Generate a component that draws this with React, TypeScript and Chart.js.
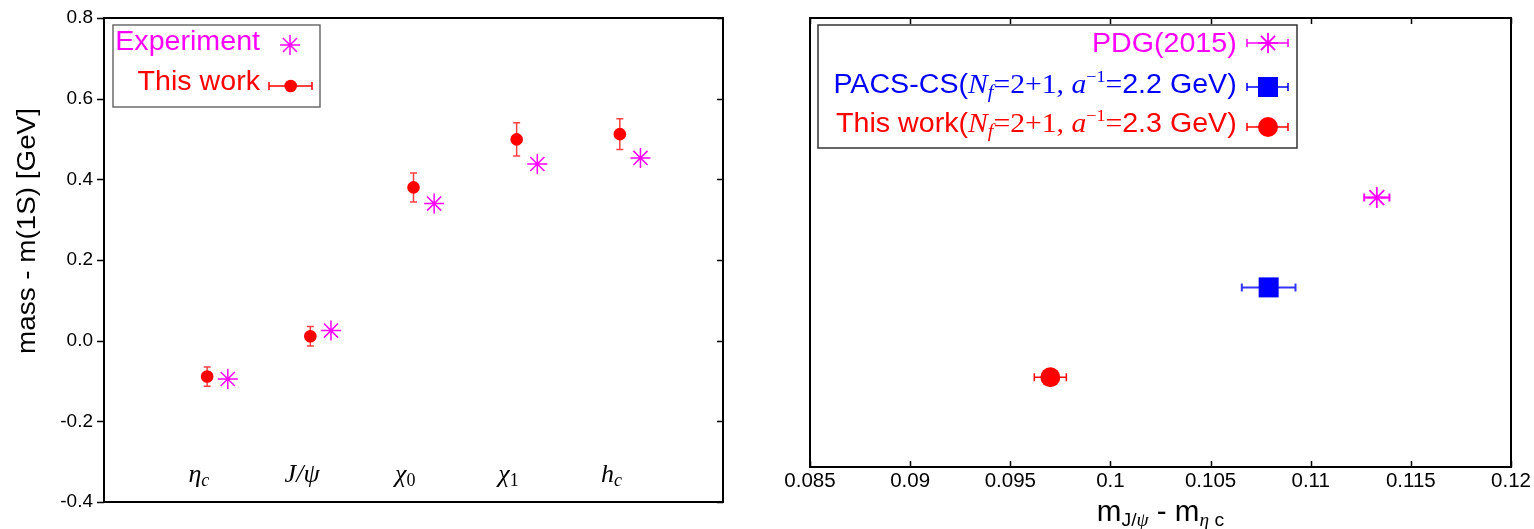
import React, { useEffect, useRef } from 'react';
import { Chart, registerables } from 'chart.js';

Chart.register(...registerables);

const MAGENTA = '#ff00ff';
const RED = '#ff0000';
const BLUE = '#0000ff';
const SANS = '"Liberation Sans", Arial, sans-serif';
const SERIF = '"Liberation Serif", "Times New Roman", serif';

// ---- Left panel data ----
const categoryMain = ['η', 'J/ψ', 'χ', 'χ', 'h'];
const categorySub = ['c', '', '0', '1', 'c'];
const categoryPos = [1, 2, 3, 4, 5];
const experimentValues = [-0.095, 0.025, 0.34, 0.438, 0.453];
const thisWorkValues = [-0.089, 0.011, 0.38, 0.499, 0.512];
const thisWorkErrors = [0.024, 0.024, 0.036, 0.041, 0.038];
const leftYMin = -0.4;
const leftYMax = 0.8;
const leftYStep = 0.2;

// ---- Right panel data ----
const rightXMin = 0.085;
const rightXMax = 0.12;
const rightXStep = 0.005;
const pdgX = [0.1133];
const pdgXErr = [0.00063];
const pacsX = [0.1079];
const pacsXErr = [0.00134];
const workX = [0.097];
const workXErr = [0.0008];
const rowY = [3, 2, 1]; // PDG, PACS-CS, This work

type Seg = { t: string; font: string; dy?: number };

function drawRich(ctx: CanvasRenderingContext2D, segs: Seg[], x: number, y: number, align: 'left' | 'right' | 'center', color: string, sx = 1) {
  ctx.save();
  ctx.fillStyle = color;
  ctx.textBaseline = 'alphabetic';
  ctx.textAlign = 'left';
  const widths = segs.map((s) => {
    ctx.font = s.font;
    return ctx.measureText(s.t).width;
  });
  const total = widths.reduce((a, b) => a + b, 0);
  ctx.translate(x, y);
  ctx.scale(sx, 1);
  let cx = align === 'right' ? -total : align === 'center' ? -total / 2 : 0;
  segs.forEach((s, i) => {
    ctx.font = s.font;
    ctx.fillText(s.t, cx, s.dy || 0);
    cx += widths[i];
  });
  ctx.restore();
}

function drawStar(ctx: CanvasRenderingContext2D, x: number, y: number, r: number, color: string, lw: number) {
  ctx.save();
  ctx.strokeStyle = color;
  ctx.lineWidth = lw;
  ctx.beginPath();
  for (let k = 0; k < 4; k++) {
    const a = (k * Math.PI) / 4;
    ctx.moveTo(x - Math.cos(a) * r, y - Math.sin(a) * r);
    ctx.lineTo(x + Math.cos(a) * r, y + Math.sin(a) * r);
  }
  ctx.stroke();
  ctx.restore();
}

function hErrBar(ctx: CanvasRenderingContext2D, x1: number, x2: number, y: number, cap: number, color: string, lw: number) {
  ctx.save();
  ctx.strokeStyle = color;
  ctx.lineWidth = lw;
  ctx.beginPath();
  ctx.moveTo(x1, y);
  ctx.lineTo(x2, y);
  ctx.moveTo(x1, y - cap);
  ctx.lineTo(x1, y + cap);
  ctx.moveTo(x2, y - cap);
  ctx.lineTo(x2, y + cap);
  ctx.stroke();
  ctx.restore();
}

function vErrBar(ctx: CanvasRenderingContext2D, x: number, y1: number, y2: number, cap: number, color: string, lw: number) {
  ctx.save();
  ctx.strokeStyle = color;
  ctx.lineWidth = lw;
  ctx.beginPath();
  ctx.moveTo(x, y1);
  ctx.lineTo(x, y2);
  ctx.moveTo(x - cap, y1);
  ctx.lineTo(x + cap, y1);
  ctx.moveTo(x - cap, y2);
  ctx.lineTo(x + cap, y2);
  ctx.stroke();
  ctx.restore();
}

const LEG_FONT = `27px ${SANS}`;

const leftPlugin = {
  id: 'leftDeco',
  beforeDatasetsDraw(chart: any) {
    const ctx = chart.ctx as CanvasRenderingContext2D;
    const xs = chart.scales.x;
    const ys = chart.scales.y;
    categoryPos.forEach((p, i) => {
      const px = xs.getPixelForValue(p);
      vErrBar(ctx, px, ys.getPixelForValue(thisWorkValues[i] + thisWorkErrors[i]), ys.getPixelForValue(thisWorkValues[i] - thisWorkErrors[i]), 3.5, 'rgba(255,0,0,0.75)', 1.5);
    });
  },
  afterDraw(chart: any) {
    const ctx = chart.ctx as CanvasRenderingContext2D;
    const { left, right, top, bottom } = chart.chartArea;
    const xs = chart.scales.x;
    const ys = chart.scales.y;
    ctx.save();
    ctx.strokeStyle = '#000';
    ctx.lineWidth = 2;
    ctx.strokeRect(left, top, right - left, bottom - top);
    ctx.beginPath();
    ys.ticks.forEach((t: any) => {
      const py = Math.round(ys.getPixelForValue(t.value)) + 0.5;
      ctx.moveTo(left - 7, py);
      ctx.lineTo(left, py);
      ctx.moveTo(right - 6, py);
      ctx.lineTo(right, py);
    });
    ctx.lineWidth = 1.5;
    ctx.stroke();
    ctx.restore();

    // category labels
    categoryPos.forEach((p, i) => {
      const px = xs.getPixelForValue(p - 0.08);
      const segs: Seg[] = [{ t: categoryMain[i], font: `italic 26px ${SERIF}` }];
      if (categorySub[i]) {
        const isDigit = /\d/.test(categorySub[i]);
        segs.push({ t: categorySub[i], font: `${isDigit ? '' : 'italic '}18px ${SERIF}`, dy: 4 });
      }
      drawRich(ctx, segs, px, 482, 'center', '#000');
    });

    // y title
    ctx.save();
    ctx.translate(35, 231);
    ctx.rotate(-Math.PI / 2);
    ctx.scale(1.05, 1);
    ctx.font = `26.5px ${SANS}`;
    ctx.fillStyle = '#000';
    ctx.textAlign = 'center';
    ctx.textBaseline = 'alphabetic';
    ctx.fillText('mass - m(1S) [GeV]', 0, 0);
    ctx.restore();

    // legend
    ctx.save();
    ctx.fillStyle = '#fff';
    ctx.fillRect(113, 25, 207, 82);
    ctx.strokeStyle = '#555';
    ctx.lineWidth = 1.3;
    ctx.strokeRect(113, 25, 207, 82);
    ctx.restore();
    drawRich(ctx, [{ t: 'Experiment', font: LEG_FONT }], 260, 50, 'right', MAGENTA, 1.06);
    drawRich(ctx, [{ t: 'This work', font: LEG_FONT }], 260, 90, 'right', RED, 1.06);
    drawStar(ctx, 290, 45, 10, MAGENTA, 1.5);
    hErrBar(ctx, 269, 312, 86, 4, RED, 1.5);
    ctx.save();
    ctx.fillStyle = RED;
    ctx.beginPath();
    ctx.arc(290.7, 86, 6.3, 0, Math.PI * 2);
    ctx.fill();
    ctx.restore();
  },
};

const rightPlugin = {
  id: 'rightDeco',
  beforeDatasetsDraw(chart: any) {
    const ctx = chart.ctx as CanvasRenderingContext2D;
    const xs = chart.scales.x;
    const ys = chart.scales.y;
    const bar = (xv: number, xe: number, yv: number, color: string, lw: number) => {
      hErrBar(ctx, xs.getPixelForValue(xv - xe), xs.getPixelForValue(xv + xe), ys.getPixelForValue(yv), 4, color, lw);
    };
    bar(pdgX[0], pdgXErr[0], rowY[0], MAGENTA, 2);
    bar(pacsX[0], pacsXErr[0], rowY[1], 'rgba(0,0,255,0.8)', 2);
    bar(workX[0], workXErr[0], rowY[2], RED, 1.5);
  },
  afterDraw(chart: any) {
    const ctx = chart.ctx as CanvasRenderingContext2D;
    const { left, right, top, bottom } = chart.chartArea;
    const xs = chart.scales.x;
    ctx.save();
    ctx.strokeStyle = '#000';
    ctx.lineWidth = 2;
    ctx.strokeRect(left, top, right - left, bottom - top);
    ctx.beginPath();
    xs.ticks.forEach((t: any) => {
      const px = Math.round(xs.getPixelForValue(t.value)) + 0.5;
      ctx.moveTo(px, top);
      ctx.lineTo(px, top + 6);
      ctx.moveTo(px, bottom);
      ctx.lineTo(px, bottom - 6);
    });
    ctx.lineWidth = 1.5;
    ctx.stroke();
    ctx.restore();

    // x title
    const cx = (left + right) / 2;
    drawRich(
      ctx,
      [
        { t: 'm', font: `29px ${SANS}` },
        { t: 'J/', font: `19px ${SANS}`, dy: 5 },
        { t: 'ψ', font: `italic 19px ${SERIF}`, dy: 5 },
        { t: ' - m', font: `29px ${SANS}` },
        { t: 'η', font: `italic 19px ${SERIF}`, dy: 5 },
        { t: ' c', font: `19px ${SANS}`, dy: 5 },
      ],
      cx,
      521,
      'center',
      '#000',
      1.02
    );

    // legend
    ctx.save();
    ctx.fillStyle = '#fff';
    ctx.fillRect(51, 25, 479, 123);
    ctx.strokeStyle = '#333';
    ctx.lineWidth = 1.5;
    ctx.strokeRect(51, 25, 479, 123);
    ctx.restore();
    const TX = 469.7;
    const paramSegs = (tail: string): Seg[] => [
      { t: 'N', font: `italic 28px ${SERIF}` },
      { t: 'f', font: `italic 19px ${SERIF}`, dy: 5 },
      { t: '=2+1, ', font: `28px ${SERIF}` },
      { t: 'a', font: `italic 28px ${SERIF}` },
      { t: '−1', font: `17px ${SERIF}`, dy: -11 },
      { t: '=', font: `28px ${SERIF}` },
      { t: tail, font: LEG_FONT },
    ];
    drawRich(ctx, [{ t: 'PDG(2015)', font: LEG_FONT }], TX, 52, 'right', MAGENTA, 1.06);
    drawRich(ctx, [{ t: 'PACS-CS(', font: LEG_FONT }, ...paramSegs('2.2 GeV)')], TX, 93, 'right', BLUE, 1.06);
    drawRich(ctx, [{ t: 'This work(', font: LEG_FONT }, ...paramSegs('2.3 GeV)')], TX, 132, 'right', RED, 1.06);
    hErrBar(ctx, 480, 521, 43, 4, MAGENTA, 1.5);
    drawStar(ctx, 501, 43, 10, MAGENTA, 1.8);
    hErrBar(ctx, 480, 521, 87, 4, BLUE, 1.5);
    ctx.save();
    ctx.fillStyle = BLUE;
    ctx.fillRect(491, 77, 20, 20);
    ctx.restore();
    hErrBar(ctx, 480, 521, 127, 4, RED, 1.5);
    ctx.save();
    ctx.fillStyle = RED;
    ctx.beginPath();
    ctx.arc(501, 127, 10, 0, Math.PI * 2);
    ctx.fill();
    ctx.restore();
  },
};

export default function App() {
  const leftRef = useRef<HTMLCanvasElement>(null);
  const rightRef = useRef<HTMLCanvasElement>(null);

  useEffect(() => {
    if (!leftRef.current || !rightRef.current) return;
    const left = new Chart(leftRef.current, {
      type: 'scatter',
      data: {
        datasets: [
          {
            label: 'Experiment',
            data: categoryPos.map((p, i) => ({ x: p + 0.2, y: experimentValues[i] })),
            pointStyle: 'star',
            pointRadius: 10,
            pointBorderWidth: 1.5,
            borderColor: MAGENTA,
            backgroundColor: MAGENTA,
          },
          {
            label: 'This work',
            data: categoryPos.map((p, i) => ({ x: p, y: thisWorkValues[i] })),
            pointStyle: 'circle',
            pointRadius: 6.3,
            pointBorderWidth: 0,
            borderColor: RED,
            backgroundColor: RED,
          },
        ],
      },
      options: {
        animation: false,
        responsive: false,
        layout: { padding: { left: 0, top: 18, right: 44, bottom: 27 } },
        plugins: { legend: { display: false }, tooltip: { enabled: false } },
        scales: {
          x: { type: 'linear', min: 0, max: 6, display: false },
          y: {
            type: 'linear',
            min: leftYMin,
            max: leftYMax,
            ticks: {
              stepSize: leftYStep,
              padding: 0,
              color: '#000',
              font: { family: SANS, size: 19 },
              callback: (v: any) => Number(v).toFixed(1),
            },
            grid: { display: true, drawOnChartArea: false, drawTicks: true, tickLength: 11, color: 'rgba(0,0,0,0)' },
            border: { display: false },
            afterFit: (s: any) => {
              s.width = 104;
            },
          },
        },
      } as any,
      plugins: [leftPlugin],
    });

    const right = new Chart(rightRef.current, {
      type: 'scatter',
      data: {
        datasets: [
          {
            label: 'PDG(2015)',
            data: pdgX.map((x) => ({ x, y: rowY[0] })),
            pointStyle: 'star',
            pointRadius: 10.5,
            pointBorderWidth: 1.8,
            borderColor: MAGENTA,
            backgroundColor: MAGENTA,
          },
          {
            label: 'PACS-CS',
            data: pacsX.map((x) => ({ x, y: rowY[1] })),
            pointStyle: 'rect',
            pointRadius: 10 * Math.SQRT2,
            pointBorderWidth: 0,
            borderColor: BLUE,
            backgroundColor: BLUE,
          },
          {
            label: 'This work',
            data: workX.map((x) => ({ x, y: rowY[2] })),
            pointStyle: 'circle',
            pointRadius: 10,
            pointBorderWidth: 0,
            borderColor: RED,
            backgroundColor: RED,
          },
        ],
      },
      options: {
        animation: false,
        responsive: false,
        layout: { padding: { left: 43, top: 18, right: 23, bottom: 0 } },
        plugins: { legend: { display: false }, tooltip: { enabled: false } },
        scales: {
          x: {
            type: 'linear',
            min: rightXMin,
            max: rightXMax,
            ticks: {
              stepSize: rightXStep,
              padding: 0,
              color: '#000',
              maxRotation: 0,
              autoSkip: false,
              font: { family: SANS, size: 20.5 },
              callback: (v: any) => String(parseFloat(Number(v).toFixed(3))),
            },
            grid: { display: true, drawOnChartArea: false, drawTicks: true, tickLength: 2, color: 'rgba(0,0,0,0)' },
            border: { display: false },
            afterFit: (s: any) => {
              s.height = 62;
            },
          },
          y: { type: 'linear', min: 0, max: 5, display: false },
        },
      } as any,
      plugins: [rightPlugin],
    });

    return () => {
      left.destroy();
      right.destroy();
    };
  }, []);

  return (
    <div style={{ position: 'fixed', left: 0, top: 0, width: 1534, height: 529, background: '#fff' }}>
      <canvas ref={leftRef} width={767} height={529} style={{ position: 'absolute', left: 0, top: 0 }} />
      <canvas ref={rightRef} width={767} height={529} style={{ position: 'absolute', left: 767, top: 0 }} />
    </div>
  );
}
